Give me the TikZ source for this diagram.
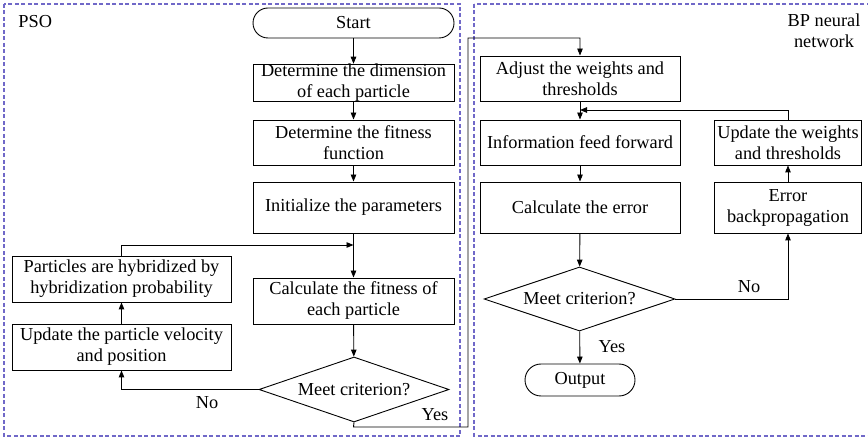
\documentclass[tikz,border=0pt]{standalone}
\usepackage{fontspec}
\setmainfont{Liberation Serif}
\usetikzlibrary{shapes.geometric,arrows.meta}
\definecolor{framecol}{RGB}{112,104,200}

\begin{document}
\begin{tikzpicture}[x=1pt,y=-1pt,
  font=\fontsize{18.3}{21}\selectfont,
  line width=0.9pt,
  box/.style={draw, rectangle, inner sep=0pt, align=center},
  term/.style={draw, rectangle, rounded corners=15pt, inner sep=0pt},
  decision/.style={draw, diamond, inner sep=0pt, shape aspect=2.9},
  arr/.style={-{Triangle[length=7pt,width=5.5pt]}},
  frame/.style={draw=framecol, line width=1.1pt, dash pattern=on 4pt off 2.5pt},
  lbl/.style={inner sep=0pt}
]
\useasboundingbox (0,0) rectangle (868,438);

% group frames
\draw[frame] (4,4) rectangle (460,436);
\draw[frame] (474,4) rectangle (874,436);
\node[lbl, anchor=west] (psolbl) at (18,22) {PSO};
\node[lbl, align=center] (bplbl) at (824,31) {BP neural\\network};

% PSO column
\node[term, minimum width=201pt, minimum height=30pt] (start) at (353.5,23) {Start};
\node[box, minimum width=201pt, minimum height=36pt] (dim) at (353.5,83) {Determine the dimension\\of each particle};
\node[box, minimum width=201pt, minimum height=45pt] (fit) at (353.5,142.5) {Determine the fitness\\function};
\node[box, minimum width=201pt, minimum height=51pt] (init) at (353.5,207.5) {Initialize the parameters};
\node[box, minimum width=201pt, minimum height=46pt] (calc) at (353.5,301) {Calculate the fitness of\\each particle};
\node[decision, minimum width=190pt, minimum height=65pt] (crit1) at (354,389.5) {Meet criterion?};
\node[box, minimum width=219pt, minimum height=46pt] (hyb) at (121.5,279) {Particles are hybridized by\\hybridization probability};
\node[box, minimum width=219pt, minimum height=46pt] (upd) at (121.5,347) {Update the particle velocity\\and position};

% BP column
\node[box, minimum width=200pt, minimum height=45pt] (adj) at (580,78.5) {Adjust the weights and\\thresholds};
\node[box, minimum width=200pt, minimum height=45pt] (info) at (580,142.5) {Information feed forward};
\node[box, minimum width=200pt, minimum height=51pt] (err) at (580,207.5) {Calculate the error};
\node[decision, minimum width=191pt, minimum height=64pt] (crit2) at (579.5,299) {Meet criterion?};
\node[term, minimum width=110pt, minimum height=32pt, rounded corners=16pt] (out) at (580,380) {Output};
\node[box, minimum width=147pt, minimum height=45pt] (updw) at (788,142.5) {Update the weights\\and thresholds};
\node[box, minimum width=147pt, minimum height=51pt] (bprop) at (788,207.5) {Error\\backpropagation};

% junction points
\coordinate (j1) at (353.5,245);
\coordinate (j2) at (580,110);
\coordinate (y1) at (353.5,427);
\coordinate (y2) at (468,427);
\coordinate (y3) at (468,38);
\coordinate (y4) at (580,38);

% PSO flow
\draw[arr] (start) -- (dim);
\draw[arr] (dim) -- (fit);
\draw[arr] (fit) -- (init);
\draw[arr] (init) -- (calc);
\draw[arr] (calc) -- (crit1);
\draw[arr] (crit1.west) -| (upd.south);
\draw[arr] (upd) -- (hyb);
\draw[arr] (hyb.north) |- (j1);
\node[lbl] (no1) at (207,403) {No};

% hand-over to BP network
\draw[arr] (crit1.south) -- (y1) -- (y2) -- (y3) -- (y4) -- (adj.north);
\node[lbl] (yes1) at (435,415) {Yes};

% BP flow
\draw[arr] (adj) -- (info);
\draw[arr] (info) -- (err);
\draw[arr] (err) -- (crit2);
\draw[arr] (crit2) -- (out);
\node[lbl] (yes2) at (612,347) {Yes};
\draw[arr] (crit2.east) -| (bprop.south);
\node[lbl] (no2) at (749,287) {No};
\draw[arr] (bprop) -- (updw);
\draw[arr] (updw.north) |- (j2);
\end{tikzpicture}
\end{document}
